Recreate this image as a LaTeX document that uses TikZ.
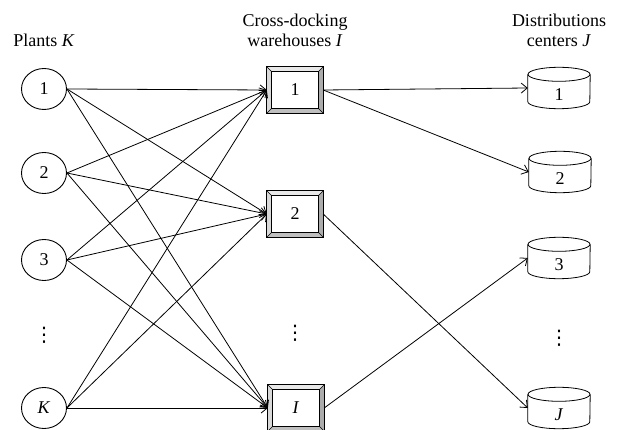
\documentclass[tikz,border=0pt]{standalone}
\usepackage{fontspec}
\setmainfont{Liberation Serif}
\newfontfamily\symfont{DejaVu Sans}
\usetikzlibrary{arrows.meta,shapes.geometric}
\newcommand\mydots{{\symfont\fontsize{20}{20}\selectfont ⋮}}
\newcommand\bevelbox[1]{%
  \fill[gray!18] (#1.north west) -- (#1.north east) -- ([shift={(-5pt,-5pt)}]#1.north east) -- ([shift={(5pt,-5pt)}]#1.north west) -- cycle;
  \fill[gray!30] (#1.north west) -- ([shift={(5pt,-5pt)}]#1.north west) -- ([shift={(5pt,5pt)}]#1.south west) -- (#1.south west) -- cycle;
  \fill[gray!65] (#1.north east) -- ([shift={(-5pt,-5pt)}]#1.north east) -- ([shift={(-5pt,5pt)}]#1.south east) -- (#1.south east) -- cycle;
  \fill[gray!50] (#1.south west) -- ([shift={(5pt,5pt)}]#1.south west) -- ([shift={(-5pt,5pt)}]#1.south east) -- (#1.south east) -- cycle;
  \draw[line width=0.9pt] (#1.north west) rectangle (#1.south east);
  \draw[line width=0.7pt] ([shift={(5pt,-5pt)}]#1.north west) rectangle ([shift={(-5pt,5pt)}]#1.south east);
  \draw[line width=0.6pt] (#1.north west) -- ([shift={(5pt,-5pt)}]#1.north west)
    (#1.north east) -- ([shift={(-5pt,-5pt)}]#1.north east)
    (#1.south west) -- ([shift={(5pt,5pt)}]#1.south west)
    (#1.south east) -- ([shift={(-5pt,5pt)}]#1.south east);
}
\newcommand\cylshape[1]{%
  \draw[line width=0.8pt] ([yshift=-7pt]#1.north west) -- ([yshift=7pt]#1.south west)
    arc[start angle=180,end angle=360,x radius=31pt,y radius=7pt]
    -- ([yshift=-7pt]#1.north east);
  \draw[line width=0.8pt] ([yshift=-7pt]#1.north) ellipse[x radius=31pt,y radius=7pt];
}
\begin{document}
\begin{tikzpicture}[x=1pt,y=-1pt,font=\fontsize{18}{20}\selectfont,
  plant/.style={ellipse,draw,line width=0.9pt,minimum width=45pt,minimum height=41pt,inner sep=0pt},
  whbox/.style={rectangle,minimum width=56pt,minimum height=46pt,inner sep=0pt},
  dcnode/.style={rectangle,minimum width=62pt,minimum height=41pt,inner sep=0pt},
  conn/.style={line width=0.8pt,-{Straight Barb[length=6pt,width=10pt]}},
  head/.style={align=center,inner sep=0pt},
  dotsnode/.style={inner sep=0pt}]
\useasboundingbox (0,0) rectangle (626,430);
% headings
\node[head] (hk) at (44,40) {Plants \textit{K}};
\node[head] (hi) at (295,30) {Cross-docking\\warehouses \textit{I}};
\node[head] (hj) at (559,30) {Distributions\\centers \textit{J}};
% plants
\node[plant] (k1) at (44,89) {1};
\node[plant] (k2) at (44,173) {2};
\node[plant] (k3) at (44,260) {3};
\node[dotsnode] (kd) at (44,335) {\mydots};
\node[plant] (kK) at (44,408) {\textit{K}};
% warehouses
\node[whbox] (w1) at (295,90) {};
\node[whbox] (w2) at (295,214) {};
\node[dotsnode] (wd) at (295,333) {\mydots};
\node[whbox] (wI) at (296,408) {};
\foreach \n in {w1,w2,wI} {\bevelbox{\n}}
\node at (w1) {1};
\node at (w2) {2};
\node at (wI) {\textit{I}};
% distribution centers
\node[dcnode] (d1) at (559,88) {};
\node[dcnode] (d2) at (560,172) {};
\node[dcnode] (d3) at (559,258) {};
\node[dotsnode] (dd) at (559,338) {\mydots};
\node[dcnode] (dJ) at (559,408) {};
\foreach \n in {d1,d2,d3,dJ} {\cylshape{\n}}
\node at ([yshift=-7pt]d1.center) {1};
\node at ([yshift=-7pt]d2.center) {2};
\node at ([yshift=-7pt]d3.center) {3};
\node at ([yshift=-7pt]dJ.center) {\textit{J}};
% connectors plants -> warehouses
\foreach \k in {k1,k2,k3,kK} {
  \foreach \w in {w1,w2,wI} {
    \draw[conn] (\k.east) -- (\w.west);
  }
}
% warehouses -> distribution centers
\draw[conn] (w1.east) -- (d1.west);
\draw[conn] (w1.east) -- (d2.west);
\draw[conn] (w2.east) -- (dJ.west);
\draw[conn] (wI.east) -- (d3.west);
\end{tikzpicture}
\end{document}
